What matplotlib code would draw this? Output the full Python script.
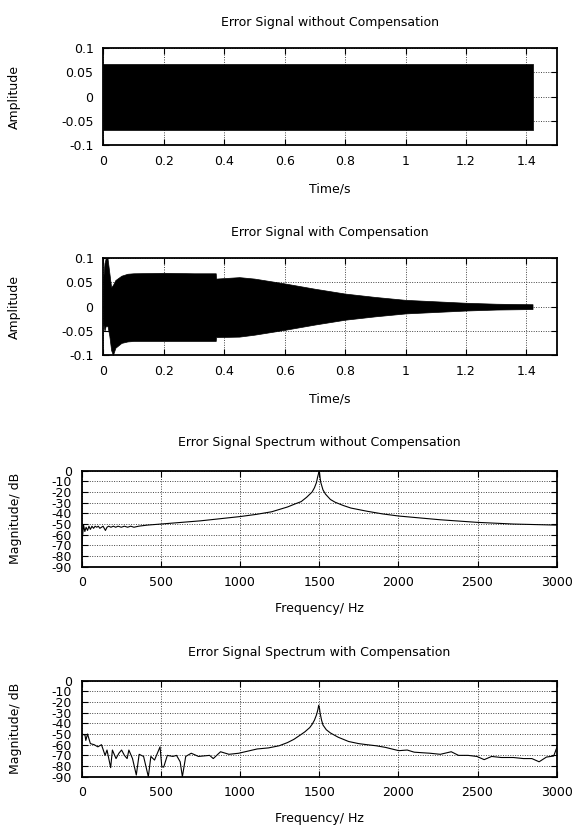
import matplotlib

matplotlib.use("Agg")
import matplotlib.pyplot as plt

# --- time-domain envelopes ---
t_nocomp = [0.0, 1.42]
up_nocomp = [0.068, 0.068]
lo_nocomp = [-0.069, -0.069]

t_comp = [0.0, 0.004, 0.008, 0.014, 0.02, 0.026, 0.032, 0.04, 0.06, 0.08, 0.1,
          0.2, 0.3, 0.372, 0.373, 0.45, 0.5, 0.6, 0.7, 0.8, 0.9, 1.0, 1.1,
          1.2, 1.3, 1.42]
up_comp = [0.06, 0.09, 0.1, 0.1, 0.07, 0.04, 0.045, 0.055, 0.064, 0.068, 0.069,
           0.07, 0.069, 0.069, 0.058, 0.061, 0.058, 0.048, 0.037, 0.027, 0.02,
           0.014, 0.011, 0.008, 0.006, 0.005]
lo_comp = [-0.035, -0.05, -0.04, -0.04, -0.06, -0.09, -0.1, -0.085, -0.075,
           -0.072, -0.071, -0.071, -0.071, -0.071, -0.063, -0.062, -0.058,
           -0.048, -0.037, -0.027, -0.02, -0.014, -0.011, -0.008, -0.006,
           -0.005]

# --- spectra (dB) ---
f_nocomp = [0, 5, 12, 20, 28, 37, 46, 55, 65, 75, 85, 95, 105, 115, 125, 135,
            150, 160, 170, 185, 200, 215, 230, 250, 270, 290, 310, 330, 360,
            414, 500, 750, 1000, 1100, 1200, 1300, 1350, 1386, 1420, 1455,
            1470, 1483, 1490, 1497, 1500, 1503, 1506, 1510, 1524, 1540, 1571,
            1600, 1650, 1700, 1802, 1900, 2003, 2265, 2496, 2727, 3000]
db_nocomp = [-70, -62, -51, -57, -53, -56, -52, -55, -52, -54, -52, -53, -52,
             -54, -53, -52, -56, -53, -52, -53, -52, -53, -52, -53, -52, -53,
             -52, -53, -52, -51, -50, -47, -43, -41, -38.5, -34, -31, -29, -25,
             -20, -16, -11, -6, -2, 0, -3, -7, -11, -18, -22, -27, -29.5,
             -32.5, -35, -38, -40.5, -42.5, -46, -48.4, -50, -51]

f_comp = [0, 21, 26, 37, 55, 79, 102, 125, 148, 160, 183, 194, 217, 235, 252,
          270, 287, 298, 321, 345, 363, 391, 421, 437, 460, 495, 506, 518, 541,
          576, 599, 622, 636, 657, 692, 738, 808, 831, 877, 930, 992, 1050,
          1108, 1180, 1247, 1300, 1340, 1380, 1409, 1440, 1455, 1470, 1483,
          1492, 1497, 1502, 1506, 1515, 1524, 1545, 1571, 1620, 1686, 1750,
          1802, 1860, 1918, 2003, 2056, 2100, 2148, 2200, 2265, 2334, 2380,
          2440, 2496, 2542, 2589, 2650, 2727, 2790, 2843, 2889, 2935, 2981,
          3000]
db_comp = [-50, -51, -56, -50, -59, -60, -62, -60, -70, -65, -81.5, -65, -73,
           -68, -65, -70, -73, -65, -73, -88.4, -69, -71, -90, -71, -74.4, -62,
           -80.6, -81, -70, -71, -70, -76, -90, -71, -68, -71, -70, -73, -66.6,
           -69, -68, -66, -64, -63, -61, -58, -55, -51, -48, -44, -41, -37,
           -32, -27, -23, -26, -30.6, -37, -41.6, -46, -49, -53, -57, -59,
           -60, -61, -62.5, -65.6, -65, -67, -67.5, -68, -69, -66.6, -70, -70,
           -71, -74, -71, -72, -72, -73, -73, -76, -71.6, -70.6, -63]

time_ticks = [0, 0.2, 0.4, 0.6, 0.8, 1, 1.2, 1.4]
time_ticklabels = ["0", "0.2", "0.4", "0.6", "0.8", "1", "1.2", "1.4"]
amp_ticks = [-0.1, -0.05, 0, 0.05, 0.1]
amp_ticklabels = ["-0.1", "-0.05", "0", "0.05", "0.1"]
freq_ticks = [0, 500, 1000, 1500, 2000, 2500, 3000]
db_ticks = [0, -10, -20, -30, -40, -50, -60, -70, -80, -90]

plt.rcParams.update({"font.family": "DejaVu Sans", "font.size": 9,
                     "axes.unicode_minus": False})

fig = plt.figure(figsize=(5.76, 8.30), dpi=100)


def style(ax):
    for s in ax.spines.values():
        s.set_linewidth(1.3)
    ax.tick_params(direction="in", top=True, right=True, length=4,
                   width=0.8, pad=7, labelsize=9)
    ax.grid(True, ls=(0, (1, 1.5)), color="#444", lw=0.7)
    ax.set_axisbelow(True)


def time_panel(rect, t, up, lo, title):
    ax = fig.add_axes(rect)
    ax.fill_between(t, lo, up, color="black", lw=0.5, edgecolor="black")
    ax.set_xlim(0, 1.5)
    ax.set_ylim(-0.1, 0.1)
    ax.set_xticks(time_ticks)
    ax.set_xticklabels(time_ticklabels)
    ax.set_yticks(amp_ticks)
    ax.set_yticklabels(amp_ticklabels)
    style(ax)
    ax.set_title(title, fontsize=9, pad=16)
    ax.set_xlabel("Time/s")
    ax.xaxis.set_label_coords(0.5, -0.46)
    ax.xaxis.label.set_va("center")
    ax.set_ylabel("Amplitude")
    ax.yaxis.set_label_coords(-0.195, 0.5)
    ax.yaxis.label.set_va("center")
    return ax


def spec_panel(rect, f, db, title):
    ax = fig.add_axes(rect)
    ax.plot(f, db, color="black", lw=0.8)
    ax.set_xlim(0, 3000)
    ax.set_ylim(-90, 0)
    ax.set_xticks(freq_ticks)
    ax.set_yticks(db_ticks)
    style(ax)
    ax.set_title(title, fontsize=9, pad=18)
    ax.set_xlabel("Frequency/ Hz")
    ax.xaxis.set_label_coords(0.5, -0.43)
    ax.xaxis.label.set_va("center")
    ax.set_ylabel("Magnitude/ dB")
    ax.yaxis.set_label_coords(-0.14, 0.5)
    ax.yaxis.label.set_va("center")
    return ax


time_panel([0.1793, 0.8253, 0.7872, 0.1165], t_nocomp, up_nocomp, lo_nocomp,
           "Error Signal without Compensation")
time_panel([0.1793, 0.5723, 0.7872, 0.1165], t_comp, up_comp, lo_comp,
           "Error Signal with Compensation")
spec_panel([0.1418, 0.3172, 0.8247, 0.1157], f_nocomp, db_nocomp,
           "Error Signal Spectrum without Compensation")
spec_panel([0.1418, 0.0642, 0.8247, 0.1157], f_comp, db_comp,
           "Error Signal Spectrum with Compensation")

fig.savefig("out.png", dpi=100)
